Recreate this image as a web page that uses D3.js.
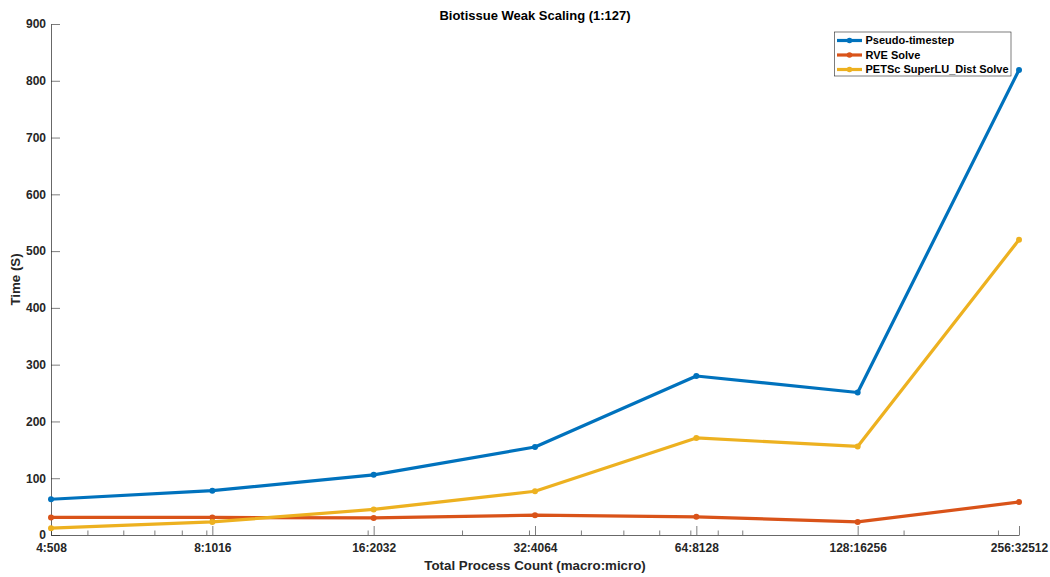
<!DOCTYPE html>
<html>
<head>
<meta charset="utf-8">
<script src="https://cdn.jsdelivr.net/npm/d3@7"></script>
<style>
  html, body { margin: 0; padding: 0; background: #fff; }
  svg { display: block; font-family: "Liberation Sans", Arial, Helvetica, sans-serif; }
</style>
</head>
<body>
<svg id="chart" width="1050" height="577"></svg>
<script>
// Total process counts (macro + micro) and their tick labels
const totals = [512, 1024, 2048, 4096, 8192, 16384, 32768];
const tickLabels = ["4:508", "8:1016", "16:2032", "32:4064", "64:8128", "128:16256", "256:32512"];

// Timings in seconds
const pseudoTimestep = [63, 78, 106, 155, 280, 251, 819];
const rveSolve = [31, 31, 30, 35, 32, 23, 58];
const petscSolve = [12, 23, 45, 77, 171, 156, 520];

const seriesNames = ["Pseudo-timestep", "RVE Solve", "PETSc SuperLU_Dist Solve"];
const seriesColors = ["#0072BD", "#D95319", "#EDB120"];
const yTicks = [0, 100, 200, 300, 400, 500, 600, 700, 800, 900];

const series = [pseudoTimestep, rveSolve, petscSolve].map((vals, i) => ({
  name: seriesNames[i], color: seriesColors[i],
  points: vals.map((v, j) => ({ x: totals[j], y: v }))
}));

const svg = d3.select("#chart");
const axisColor = "#262626";
const plotLeft = 51, plotRight = 1019, plotTop = 24, plotBottom = 535;

const x = d3.scaleLog().domain([512, 32768]).range([plotLeft, plotRight]);
const y = d3.scaleLinear().domain([0, 900]).range([plotBottom, plotTop]);

// Minor log ticks (base 10 subdivisions) on the x axis
const minor = x.ticks().filter(t => !totals.includes(t));
svg.append("g").selectAll("line").data(minor).join("line")
  .attr("x1", d => x(d)).attr("x2", d => x(d))
  .attr("y1", plotBottom).attr("y2", plotBottom - 4.5)
  .attr("stroke", axisColor).attr("stroke-width", 0.6);

// X axis with inward ticks
const xAxis = d3.axisBottom(x).tickValues(totals)
  .tickFormat((d, i) => tickLabels[i]).tickSizeInner(-9).tickSizeOuter(0).tickPadding(8);
const gx = svg.append("g").attr("transform", `translate(0,${plotBottom})`).call(xAxis);
gx.select(".domain").attr("stroke", axisColor).attr("stroke-width", 0.7);
gx.selectAll(".tick line").attr("stroke", axisColor).attr("stroke-width", 0.6);
gx.selectAll(".tick text").attr("fill", axisColor).attr("font-size", 12).attr("font-weight", "bold");

// Y axis with inward ticks
const yAxis = d3.axisLeft(y).tickValues(yTicks).tickSizeInner(-9).tickSizeOuter(0).tickPadding(5);
const gy = svg.append("g").attr("transform", `translate(${plotLeft},0)`).call(yAxis);
gy.select(".domain").attr("stroke", axisColor).attr("stroke-width", 0.7);
gy.selectAll(".tick line").attr("stroke", axisColor).attr("stroke-width", 0.6);
gy.selectAll(".tick text").attr("fill", axisColor).attr("font-size", 12).attr("font-weight", "bold");

// Lines with dot markers
const line = d3.line().x(d => x(d.x)).y(d => y(d.y));
const g = svg.append("g");
series.forEach(s => {
  g.append("path").datum(s.points)
    .attr("fill", "none").attr("stroke", s.color).attr("stroke-width", 3.2)
    .attr("stroke-linejoin", "round").attr("d", line);
  g.selectAll(null).data(s.points).join("circle")
    .attr("cx", d => x(d.x)).attr("cy", d => y(d.y)).attr("r", 3)
    .attr("fill", s.color);
});

// Title and axis labels
svg.append("text").attr("x", (plotLeft + plotRight) / 2).attr("y", 19.5)
  .attr("text-anchor", "middle").attr("font-size", 13).attr("font-weight", "bold")
  .attr("fill", "#000").text("Biotissue Weak Scaling (1:127)");
svg.append("text").attr("x", (plotLeft + plotRight) / 2).attr("y", 570)
  .attr("text-anchor", "middle").attr("font-size", 13.3).attr("font-weight", "bold")
  .attr("fill", axisColor).text("Total Process Count (macro:micro)");
svg.append("text").attr("transform", `translate(19.5,${(plotTop + plotBottom) / 2}) rotate(-90)`)
  .attr("text-anchor", "middle").attr("font-size", 13.3).attr("font-weight", "bold")
  .attr("fill", axisColor).text("Time (S)");

// Legend
const lg = svg.append("g").attr("transform", "translate(834.5,32)");
lg.append("rect").attr("width", 176.5).attr("height", 44)
  .attr("fill", "#fff").attr("stroke", "#262626").attr("stroke-width", 0.6);
series.forEach((s, i) => {
  const yy = 8.5 + i * 14.5;
  lg.append("line").attr("x1", 2.5).attr("x2", 27.5).attr("y1", yy).attr("y2", yy)
    .attr("stroke", s.color).attr("stroke-width", 3.2);
  lg.append("circle").attr("cx", 15).attr("cy", yy).attr("r", 2.8).attr("fill", s.color);
  lg.append("text").attr("x", 31).attr("y", yy).attr("dy", "0.35em")
    .attr("font-size", 11).attr("font-weight", "bold").attr("fill", "#000").text(s.name);
});
</script>
</body>
</html>
